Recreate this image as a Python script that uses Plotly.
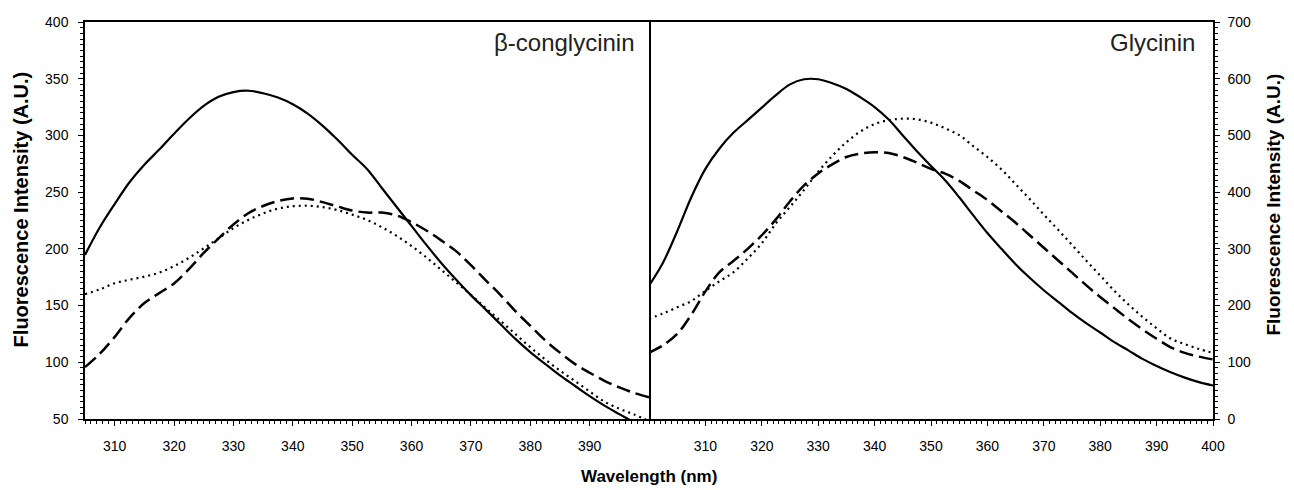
import plotly.graph_objects as go

# ---- data: left panel (beta-conglycinin) ----
left_wl = [305, 307.5, 310, 312.5, 315, 317.5, 320, 322.5, 325, 327.5, 330, 332.5, 335, 337.5,
           340, 342.5, 345, 347.5, 350, 352.5, 355, 357.5, 360, 362.5, 365, 367.5, 370, 372.5,
           375, 377.5, 380, 382.5, 385, 387.5, 390, 392.5, 395, 397.5, 400]
left_solid = [194.6, 219, 239.5, 258.7, 274.2, 287.5, 301.5, 314.7, 326, 334, 338.2, 339.4, 337.2, 333.4,
              327.5, 319.3, 308.7, 296.4, 283, 270.4, 253.7, 236.9, 220.2, 203.5, 187.6, 173, 159.2, 146.4,
              133.5, 120.6, 109, 98.6, 88.4, 79.3, 70.2, 61.8, 54.3, 47, 41]
left_dash = [95.8, 107.5, 122.4, 139.2, 152.2, 161, 169.5, 182.2, 196.4, 209.3, 221.5, 231.4, 237.8, 242.2,
             244.5, 244.2, 241.2, 237.4, 233.8, 232, 232, 229.5, 223.5, 216.2, 207.5, 198, 185.6, 172.3,
             159.3, 145, 132.2, 119.4, 108.5, 98.6, 90.8, 83.7, 77.8, 73, 69.2]
left_dot = [160, 164.3, 169.7, 172.8, 175.5, 179, 184.8, 192, 200.5, 209.3, 218.3, 225.5, 231.2, 235.5,
            237.6, 238, 236.8, 234.2, 230.2, 225.5, 219.1, 211.4, 202.5, 192.5, 181.5, 170.6, 159.5, 147.8,
            136.5, 124.9, 113.3, 102.6, 92.7, 83.6, 74.3, 65.3, 59, 54, 48]

# ---- data: right panel (glycinin) ----
right_wl = [300, 302.5, 305, 307.5, 310, 312.5, 315, 317.5, 320, 322.5, 325, 327.5, 330, 332.5, 335,
            337.5, 340, 342.5, 345, 347.5, 350, 352.5, 355, 357.5, 360, 362.5, 365, 367.5, 370,
            372.5, 375, 377.5, 380, 382.5, 385, 387.5, 390, 392.5, 395, 397.5, 400]
right_solid = [235, 276, 331, 391, 441, 477, 505, 527, 549, 571, 590, 599, 599, 592, 582,
               567, 550, 528, 500, 472, 446, 421, 391, 359, 328, 300, 273, 249, 227,
               207, 187, 169, 152.5, 135.5, 121, 106, 93.5, 82.5, 73, 65, 59]
right_dash = [117, 130, 150, 184, 225, 259, 279, 300, 324, 352, 384, 412, 433, 449, 462,
              468, 470.5, 469, 462, 452, 441, 432.5, 420, 403, 386, 366, 346, 324, 302,
              280, 258, 236, 215, 195.5, 176, 158, 141.5, 126.5, 116.5, 110, 105]
right_dot = [177, 186, 197, 208, 226, 243, 259, 283, 310, 345, 374, 404, 436, 464, 488,
             507, 520, 527, 529.5, 528.5, 522.5, 512.5, 500.5, 481, 462, 440, 414, 387.7, 360.5,
             334, 307, 279.5, 253, 226, 202, 180, 160, 142, 132, 123.5, 116.5]

left_ticks = [310, 320, 330, 340, 350, 360, 370, 380, 390]
right_ticks = [310, 320, 330, 340, 350, 360, 370, 380, 390, 400]
left_yticks = [50, 100, 150, 200, 250, 300, 350, 400]
right_yticks = [0, 100, 200, 300, 400, 500, 600, 700]

fig = go.Figure()

styles = [("solid", 2.2), ("14px,6px", 2.5), ("2px,4px", 2.2)]
for ys, (dash, w) in zip([left_solid, left_dash, left_dot], styles):
    fig.add_trace(go.Scatter(x=left_wl, y=ys, mode="lines", xaxis="x", yaxis="y",
                             line=dict(color="black", width=w, dash=dash, shape="spline"),
                             showlegend=False))
for ys, (dash, w) in zip([right_solid, right_dash, right_dot], styles):
    fig.add_trace(go.Scatter(x=right_wl, y=ys, mode="lines", xaxis="x2", yaxis="y2",
                             line=dict(color="black", width=w, dash=dash, shape="spline"),
                             showlegend=False))

tickfont = dict(family="Liberation Sans, Arial, sans-serif", size=14, color="black")
common_x = dict(showline=True, linecolor="black", linewidth=1.5, mirror=True, ticks="outside",
                ticklen=5, tickwidth=1.2, tickcolor="black", showgrid=False, zeroline=False,
                tickfont=tickfont, tickmode="array", ticklabelstandoff=8,
                ticklabeloverflow="allow",
                minor=dict(ticks="outside", ticklen=3, tickwidth=1, tickcolor="black",
                           tickmode="linear", tick0=300, dtick=1, showgrid=False))

# page has an 8px body margin, so the figure is 8px smaller than the window
fig.update_layout(
    width=1286, height=482,
    margin=dict(l=77, r=81, t=6, b=71),
    paper_bgcolor="white", plot_bgcolor="white",
    xaxis=dict(domain=[0, 0.5], range=[305, 400], tickvals=left_ticks, anchor="y", **common_x),
    xaxis2=dict(domain=[0.5, 1], range=[300, 400], tickvals=right_ticks, anchor="y2", **common_x),
    yaxis=dict(range=[50, 400], anchor="x", side="left", tickvals=left_yticks,
               showline=True, linecolor="black", linewidth=1.5, mirror=True, ticks="outside",
               ticklen=5, tickwidth=1.2, tickcolor="black", showgrid=False, zeroline=False,
               tickfont=tickfont, ticklabelstandoff=7, ticklabeloverflow="allow",
               minor=dict(ticks="outside", ticklen=3, tickwidth=1, tickcolor="black",
                          tickmode="linear", tick0=50, dtick=5, showgrid=False)),
    yaxis2=dict(range=[0, 700], anchor="x2", side="right", tickvals=right_yticks,
                showline=True, linecolor="black", linewidth=1.5, mirror=False, ticks="outside",
                ticklen=5, tickwidth=1.2, tickcolor="black", showgrid=False, zeroline=False,
                tickfont=tickfont, ticklabelstandoff=5, ticklabeloverflow="allow",
                minor=dict(ticks="outside", ticklen=3, tickwidth=1, tickcolor="black",
                           tickmode="linear", tick0=0, dtick=10, showgrid=False)),
)

title_font = dict(family="Liberation Sans, Arial, sans-serif", size=17, color="black", weight="bold")
fig.add_annotation(text="Wavelength (nm)", xref="paper", yref="paper", x=0.5, y=-0.146,
                   xanchor="center", yanchor="middle", showarrow=False, font=title_font)
fig.add_annotation(text="Fluorescence Intensity (A.U.)", xref="paper", yref="paper",
                   x=(21 - 85) / 1128, y=0.528, xanchor="center", yanchor="middle", textangle=-90,
                   showarrow=False, font=dict(title_font, size=20))
fig.add_annotation(text="Fluorescence Intensity (A.U.)", xref="paper", yref="paper",
                   x=1.054, y=0.54, xanchor="center", yanchor="middle", textangle=-90,
                   showarrow=False, font=dict(title_font, size=19))

label_font = dict(family="Liberation Sans, Arial, sans-serif", size=24, color="#222222")
fig.add_annotation(text="β-conglycinin", xref="paper", yref="paper",
                   x=(637 - 85) / 1128, y=(419 - 35) / 405, xanchor="right", yanchor="middle",
                   showarrow=False, font=label_font)
fig.add_annotation(text="Glycinin", xref="paper", yref="paper",
                   x=(1197 - 85) / 1128, y=(419 - 35) / 405, xanchor="right", yanchor="middle",
                   showarrow=False, font=label_font)

fig.write_html("out.html")
